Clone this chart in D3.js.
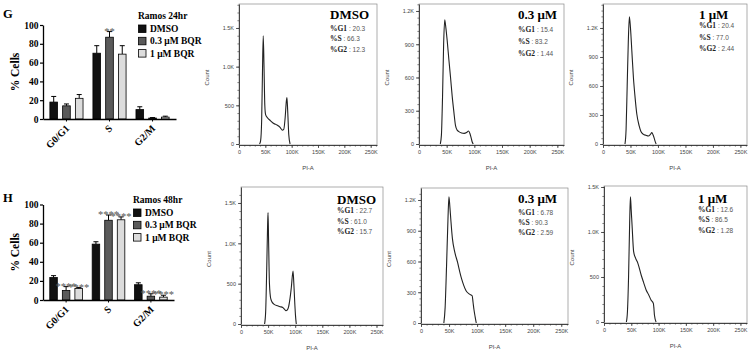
<!DOCTYPE html>
<html>
<head>
<meta charset="utf-8">
<script src="https://cdn.jsdelivr.net/npm/d3@7"></script>
<style>
  body { margin: 0; background: #fff; }
  svg { display: block; }
</style>
</head>
<body>
<div id="fig"></div>
<script>
// ---- bar chart data (% cells) ----
const phases = ["G0/G1", "S", "G2/M"];
const treatments = ["DMSO", "0.3 μM BQR", "1 μM BQR"];

const dmso24 = [18, 70, 10],  dmso24Err = [6, 8, 3];
const bqr03_24 = [14, 87, 1], bqr03_24Err = [2, 6, 0.5];
const bqr1_24 = [22, 69, 2],  bqr1_24Err = [4, 9, 1];
const sig24 = [["", "", ""], ["", "**", ""], ["", "", ""]];

const dmso48 = [23.5, 58.5, 16], dmso48Err = [2, 2.5, 2];
const bqr03_48 = [10, 83.5, 4],  bqr03_48Err = [4, 5.5, 2.5];
const bqr1_48 = [12, 84, 3],     bqr1_48Err = [1, 3, 2];
const sig48 = [["", "", ""], ["****", "****", "****"], ["****", "****", "****"]];

const pctTicks = [0, 20, 40, 60, 80, 100];

// ---- histogram data: [PI-A in K, count] ----
const hist24Dmso = [[39,0],[41,40],[43,300],[44.5,900],[46,1400],[47.5,1000],[49,500],[50.5,380],[54,340],[60,300],[66,265],[72,245],[78,215],[82,180],[85,190],[87.5,330],[90,560],[91,600],[92.5,420],[94.5,120],[97,0]];
const hist24Bqr03 = [[38.5,0],[40.5,80],[42.5,420],[44.5,900],[46.5,1120],[48.5,1050],[51,930],[54,760],[57,600],[60,430],[63,290],[66,165],[69,125],[72,112],[77,100],[81.5,96],[86,104],[89.5,117],[92,95],[94,60],[96,20],[98,0]];
const hist24Bqr1 = [[40,0],[42,150],[44,600],[46,1050],[48,1315],[50,1200],[52.4,970],[55.3,690],[58.4,480],[61.5,310],[65.7,190],[69,130],[73.5,100],[78,90],[82.7,83],[86,98],[88.9,118],[91,95],[93,63],[95,25],[96.7,0]];
const hist48Dmso = [[43.5,0],[45.5,150],[47.5,700],[49,1200],[49.9,1380],[51,1000],[52.5,500],[55,310],[58,265],[62,240],[67.6,225],[72,215],[77,205],[80,185],[83,164],[85.5,175],[87.7,210],[90.5,320],[92.8,450],[96,656],[97.5,500],[99,287],[100.5,110],[102,0]];
const hist48Bqr03 = [[40.7,0],[43,150],[45.5,550],[48,1000],[49.8,1232],[51.5,1130],[53,1020],[56,823],[60.2,691],[65.1,593],[69.3,495],[72.4,430],[76,370],[80.3,315],[86.3,282],[91.2,266],[92.8,200],[94.3,134],[96.5,60],[98.5,0]];
const hist48Bqr1 = [[41,0],[43,120],[45,500],[47,1100],[48.4,1392],[49.8,1250],[51.4,1078],[54.3,781],[58,707],[62.1,652],[68.1,522],[72.5,440],[77.2,356],[82,300],[86.2,244],[90.4,207],[91.5,150],[92.4,78],[95.4,0]];

const stats24Dmso = ["20.3", "66.3", "12.3"];
const stats24Bqr03 = ["15.4", "83.2", "1.44"];
const stats24Bqr1 = ["20.4", "77.0", "2.44"];
const stats48Dmso = ["22.7", "61.0", "15.7"];
const stats48Bqr03 = ["6.78", "90.3", "2.59"];
const stats48Bqr1 = ["12.6", "86.5", "1.28"];
const statNames = ["%G1", "%S", "%G2"];

const xTicksK = [0, 50, 100, 150, 200, 250];
const countTicks500 = [0, 500, 1000, 1500];
const countTicks300 = [0, 300, 600, 900, 1200];

const SERIF = "'Liberation Serif','Times New Roman',serif";
const SANS = "'Liberation Sans',Arial,sans-serif";

const svg = d3.select("#fig").append("svg")
  .attr("width", 750).attr("height", 354)
  .style("background", "#fff");

const fills = ["#111111", "#5a5a5a", "#dcdcdc"];

function barChart(cfg) {
  const g = svg.append("g");
  const x0 = d3.scaleBand().domain(phases).range([cfg.xl, cfg.xr])
    .paddingInner(0.23).paddingOuter(0.16);
  const x1 = d3.scaleBand().domain(treatments).range([0, x0.bandwidth()])
    .paddingInner(0.4);
  const y = d3.scaleLinear().domain([0, 100]).range([cfg.yb, cfg.yt]);

  // bars + error bars + stars
  cfg.means.forEach((vals, si) => {
    const t = treatments[si];
    vals.forEach((v, pi) => {
      const bx = x0(phases[pi]) + x1(t);
      const bw = x1.bandwidth();
      const top = v + cfg.errs[si][pi];
      g.append("line")
        .attr("x1", bx + bw / 2).attr("x2", bx + bw / 2)
        .attr("y1", y(v)).attr("y2", y(top))
        .attr("stroke", "#000").attr("stroke-width", 1);
      g.append("line")
        .attr("x1", bx + bw / 2 - 2.5).attr("x2", bx + bw / 2 + 2.5)
        .attr("y1", y(top)).attr("y2", y(top))
        .attr("stroke", "#000").attr("stroke-width", 1);
      g.append("rect")
        .attr("x", bx).attr("y", y(v))
        .attr("width", bw).attr("height", y(0) - y(v))
        .attr("fill", fills[si]).attr("stroke", "#000").attr("stroke-width", 0.8);
      const s = cfg.sigs[si][pi];
      if (s) {
        g.append("text")
          .attr("x", bx + bw / 2).attr("y", y(top) + 3)
          .attr("text-anchor", "middle")
          .attr("font-family", SERIF).attr("font-size", "10.5px")
          .attr("fill", "#555").text(s);
      }
    });
  });

  // y axis
  const ya = g.append("g").attr("transform", `translate(${cfg.xl},0)`)
    .call(d3.axisLeft(y).tickValues(pctTicks).tickSize(3).tickSizeOuter(0).tickPadding(1.5));
  ya.select(".domain").attr("stroke-width", 1.3);
  ya.selectAll(".tick line").attr("stroke-width", 1.2);
  ya.selectAll("text").attr("font-family", SERIF).attr("font-weight", "bold")
    .attr("font-size", "9.5px").attr("fill", "#000");

  // x axis
  const xa = g.append("g").attr("transform", `translate(0,${cfg.yb})`)
    .call(d3.axisBottom(x0).tickSize(2.5).tickSizeOuter(0).tickFormat(""));
  xa.select(".domain").attr("stroke-width", 1.3);
  phases.forEach(p => {
    const cx = x0(p) + x0.bandwidth() / 2 + 1;
    const cy = cfg.yb + 7.5;
    g.append("text")
      .attr("transform", `translate(${cx},${cy}) rotate(-45)`)
      .attr("text-anchor", "end").attr("dy", "0.35em")
      .attr("font-family", SERIF).attr("font-weight", "bold").attr("font-size", "10px")
      .text(p);
  });

  // y label
  g.append("text")
    .attr("transform", `translate(15,${(cfg.yt + cfg.yb) / 2}) rotate(-90)`)
    .attr("text-anchor", "middle").attr("dy", "0.35em")
    .attr("font-family", SERIF).attr("font-weight", "bold").attr("font-size", "11.5px")
    .text("% Cells");

  // panel letter
  g.append("text").attr("x", 3).attr("y", cfg.letterY)
    .attr("font-family", SERIF).attr("font-weight", "bold").attr("font-size", "12.5px")
    .text(cfg.letter);

  // legend
  const lg = g.append("g").attr("transform", `translate(${cfg.legX},${cfg.legY})`);
  lg.append("text").attr("x", 0).attr("y", 0)
    .attr("font-family", SERIF).attr("font-weight", "bold").attr("font-size", "9.5px")
    .text(cfg.title);
  treatments.forEach((t, i) => {
    lg.append("rect").attr("x", 0.5).attr("y", 6 + i * 12.3)
      .attr("width", 7.5).attr("height", 7.5)
      .attr("fill", fills[i]).attr("stroke", "#000").attr("stroke-width", 0.8);
    lg.append("text").attr("x", 12).attr("y", 13 + i * 12.3)
      .attr("font-family", SERIF).attr("font-weight", "bold").attr("font-size", "9.5px")
      .text(t);
  });
}

barChart({
  xl: 43, xr: 176, yt: 25, yb: 119, letter: "G", letterY: 18,
  legX: 138, legY: 19, title: "Ramos 24hr",
  means: [dmso24, bqr03_24, bqr1_24], errs: [dmso24Err, bqr03_24Err, bqr1_24Err], sigs: sig24
});
barChart({
  xl: 43, xr: 174, yt: 204.5, yb: 300, letter: "H", letterY: 202,
  legX: 133, legY: 203, title: "Ramos 48hr",
  means: [dmso48, bqr03_48, bqr1_48], errs: [dmso48Err, bqr03_48Err, bqr1_48Err], sigs: sig48
});

// ---- flow histograms ----
const kFmt = d => d >= 1000 ? (d / 1000).toFixed(1) + "K" : String(d);

function histPanel(p) {
  const g = svg.append("g");
  const x = d3.scaleLinear().domain([0, 262]).range([p.left, p.right]);
  const y = d3.scaleLinear().domain([0, p.yMax]).range([p.bottom - 1, p.top]);

  g.append("rect")
    .attr("x", p.left).attr("y", p.top)
    .attr("width", p.right - p.left).attr("height", p.bottom - p.top)
    .attr("fill", "none").attr("stroke", "#8a8a8a").attr("stroke-width", 0.7);

  // minor ticks
  g.append("g").attr("transform", `translate(0,${p.bottom})`)
    .call(d3.axisBottom(x).tickValues(d3.range(0, 261, 10)).tickSize(1.6).tickFormat(""))
    .call(a => a.select(".domain").remove())
    .selectAll("line").attr("stroke", "#333").attr("stroke-width", 0.6);
  const yStep = p.yTicks[1] - p.yTicks[0];
  g.append("g").attr("transform", `translate(${p.left},0)`)
    .call(d3.axisLeft(y).tickValues(d3.range(0, p.yMax, yStep / 5)).tickSize(1.6).tickFormat(""))
    .call(a => a.select(".domain").remove())
    .selectAll("line").attr("stroke", "#333").attr("stroke-width", 0.6);

  // major axes
  const xa = g.append("g").attr("transform", `translate(0,${p.bottom})`)
    .call(d3.axisBottom(x).tickValues(xTicksK).tickFormat(d => d === 0 ? "0" : d + "K")
      .tickSize(3).tickSizeOuter(0).tickPadding(2.5));
  xa.select(".domain").attr("stroke", "#333").attr("stroke-width", 0.9);
  xa.selectAll(".tick line").attr("stroke", "#333").attr("stroke-width", 0.8);
  xa.selectAll("text").attr("font-family", SANS).attr("font-size", "5.5px").attr("fill", "#444");

  const ya = g.append("g").attr("transform", `translate(${p.left},0)`)
    .call(d3.axisLeft(y).tickValues(p.yTicks).tickFormat(kFmt)
      .tickSize(3).tickSizeOuter(0).tickPadding(2));
  ya.select(".domain").attr("stroke", "#333").attr("stroke-width", 0.9);
  ya.selectAll(".tick line").attr("stroke", "#333").attr("stroke-width", 0.8);
  ya.selectAll("text").attr("font-family", SANS).attr("font-size", "5.5px").attr("fill", "#444");

  // histogram trace
  g.append("path").datum(p.data)
    .attr("d", d3.line().x(d => x(d[0])).y(d => y(d[1])).curve(d3.curveMonotoneX))
    .attr("fill", "none").attr("stroke", "#222").attr("stroke-width", 1.1);

  // axis titles
  g.append("text")
    .attr("x", (p.left + p.right) / 2).attr("y", p.bottom + 25)
    .attr("text-anchor", "middle")
    .attr("font-family", SANS).attr("font-size", "6px").attr("fill", "#444")
    .text("PI-A");
  g.append("text")
    .attr("transform", `translate(${p.left - 32},${(p.top + p.bottom) / 2 + 3}) rotate(-90)`)
    .attr("text-anchor", "middle").attr("dy", "0.35em")
    .attr("font-family", SANS).attr("font-size", "6px").attr("fill", "#444")
    .text("Count");

  // condition label + stats
  g.append("text").attr("x", p.labelX).attr("y", p.titleY)
    .attr("font-family", SERIF).attr("font-weight", "bold").attr("font-size", "13px")
    .text(p.label);
  p.stats.forEach((v, i) => {
    const t = g.append("text").attr("x", p.labelX).attr("y", p.statY + i * p.statGap);
    t.append("tspan").attr("font-family", SERIF).attr("font-weight", "bold")
      .attr("font-size", "7.5px").attr("fill", "#222").text(statNames[i]);
    t.append("tspan").attr("font-family", SANS).attr("font-size", "6.5px")
      .attr("fill", "#555").text(" : " + v);
  });
}

const panels = [
  { left: 239, right: 377, top: 4, bottom: 145, yMax: 1810, yTicks: countTicks500, data: hist24Dmso,
    label: "DMSO", labelX: 330, titleY: 18.5, statY: 30.5, statGap: 10.5, stats: stats24Dmso },
  { left: 419, right: 564, top: 4, bottom: 145, yMax: 1263, yTicks: countTicks300, data: hist24Bqr03,
    label: "0.3 μM", labelX: 518, titleY: 19, statY: 31.5, statGap: 12, stats: stats24Bqr03 },
  { left: 603, right: 747, top: 4, bottom: 145, yMax: 1448, yTicks: countTicks300, data: hist24Bqr1,
    label: "1 μM", labelX: 699, titleY: 18.5, statY: 28, statGap: 11.5, stats: stats24Bqr1 },
  { left: 241, right: 383, top: 187, bottom: 325, yMax: 1698, yTicks: countTicks500, data: hist48Dmso,
    label: "DMSO", labelX: 337, titleY: 203.5, statY: 213, statGap: 10.5, stats: stats48Dmso },
  { left: 421, right: 568, top: 188, bottom: 324, yMax: 1317, yTicks: countTicks300, data: hist48Bqr03,
    label: "0.3 μM", labelX: 518, titleY: 203, statY: 214.5, statGap: 10, stats: stats48Bqr03 },
  { left: 604, right: 747, top: 186, bottom: 323, yMax: 1511, yTicks: countTicks500, data: hist48Bqr1,
    label: "1 μM", labelX: 698, titleY: 202.5, statY: 211.5, statGap: 10.5, stats: stats48Bqr1 }
];
panels.forEach(histPanel);
</script>
</body>
</html>
